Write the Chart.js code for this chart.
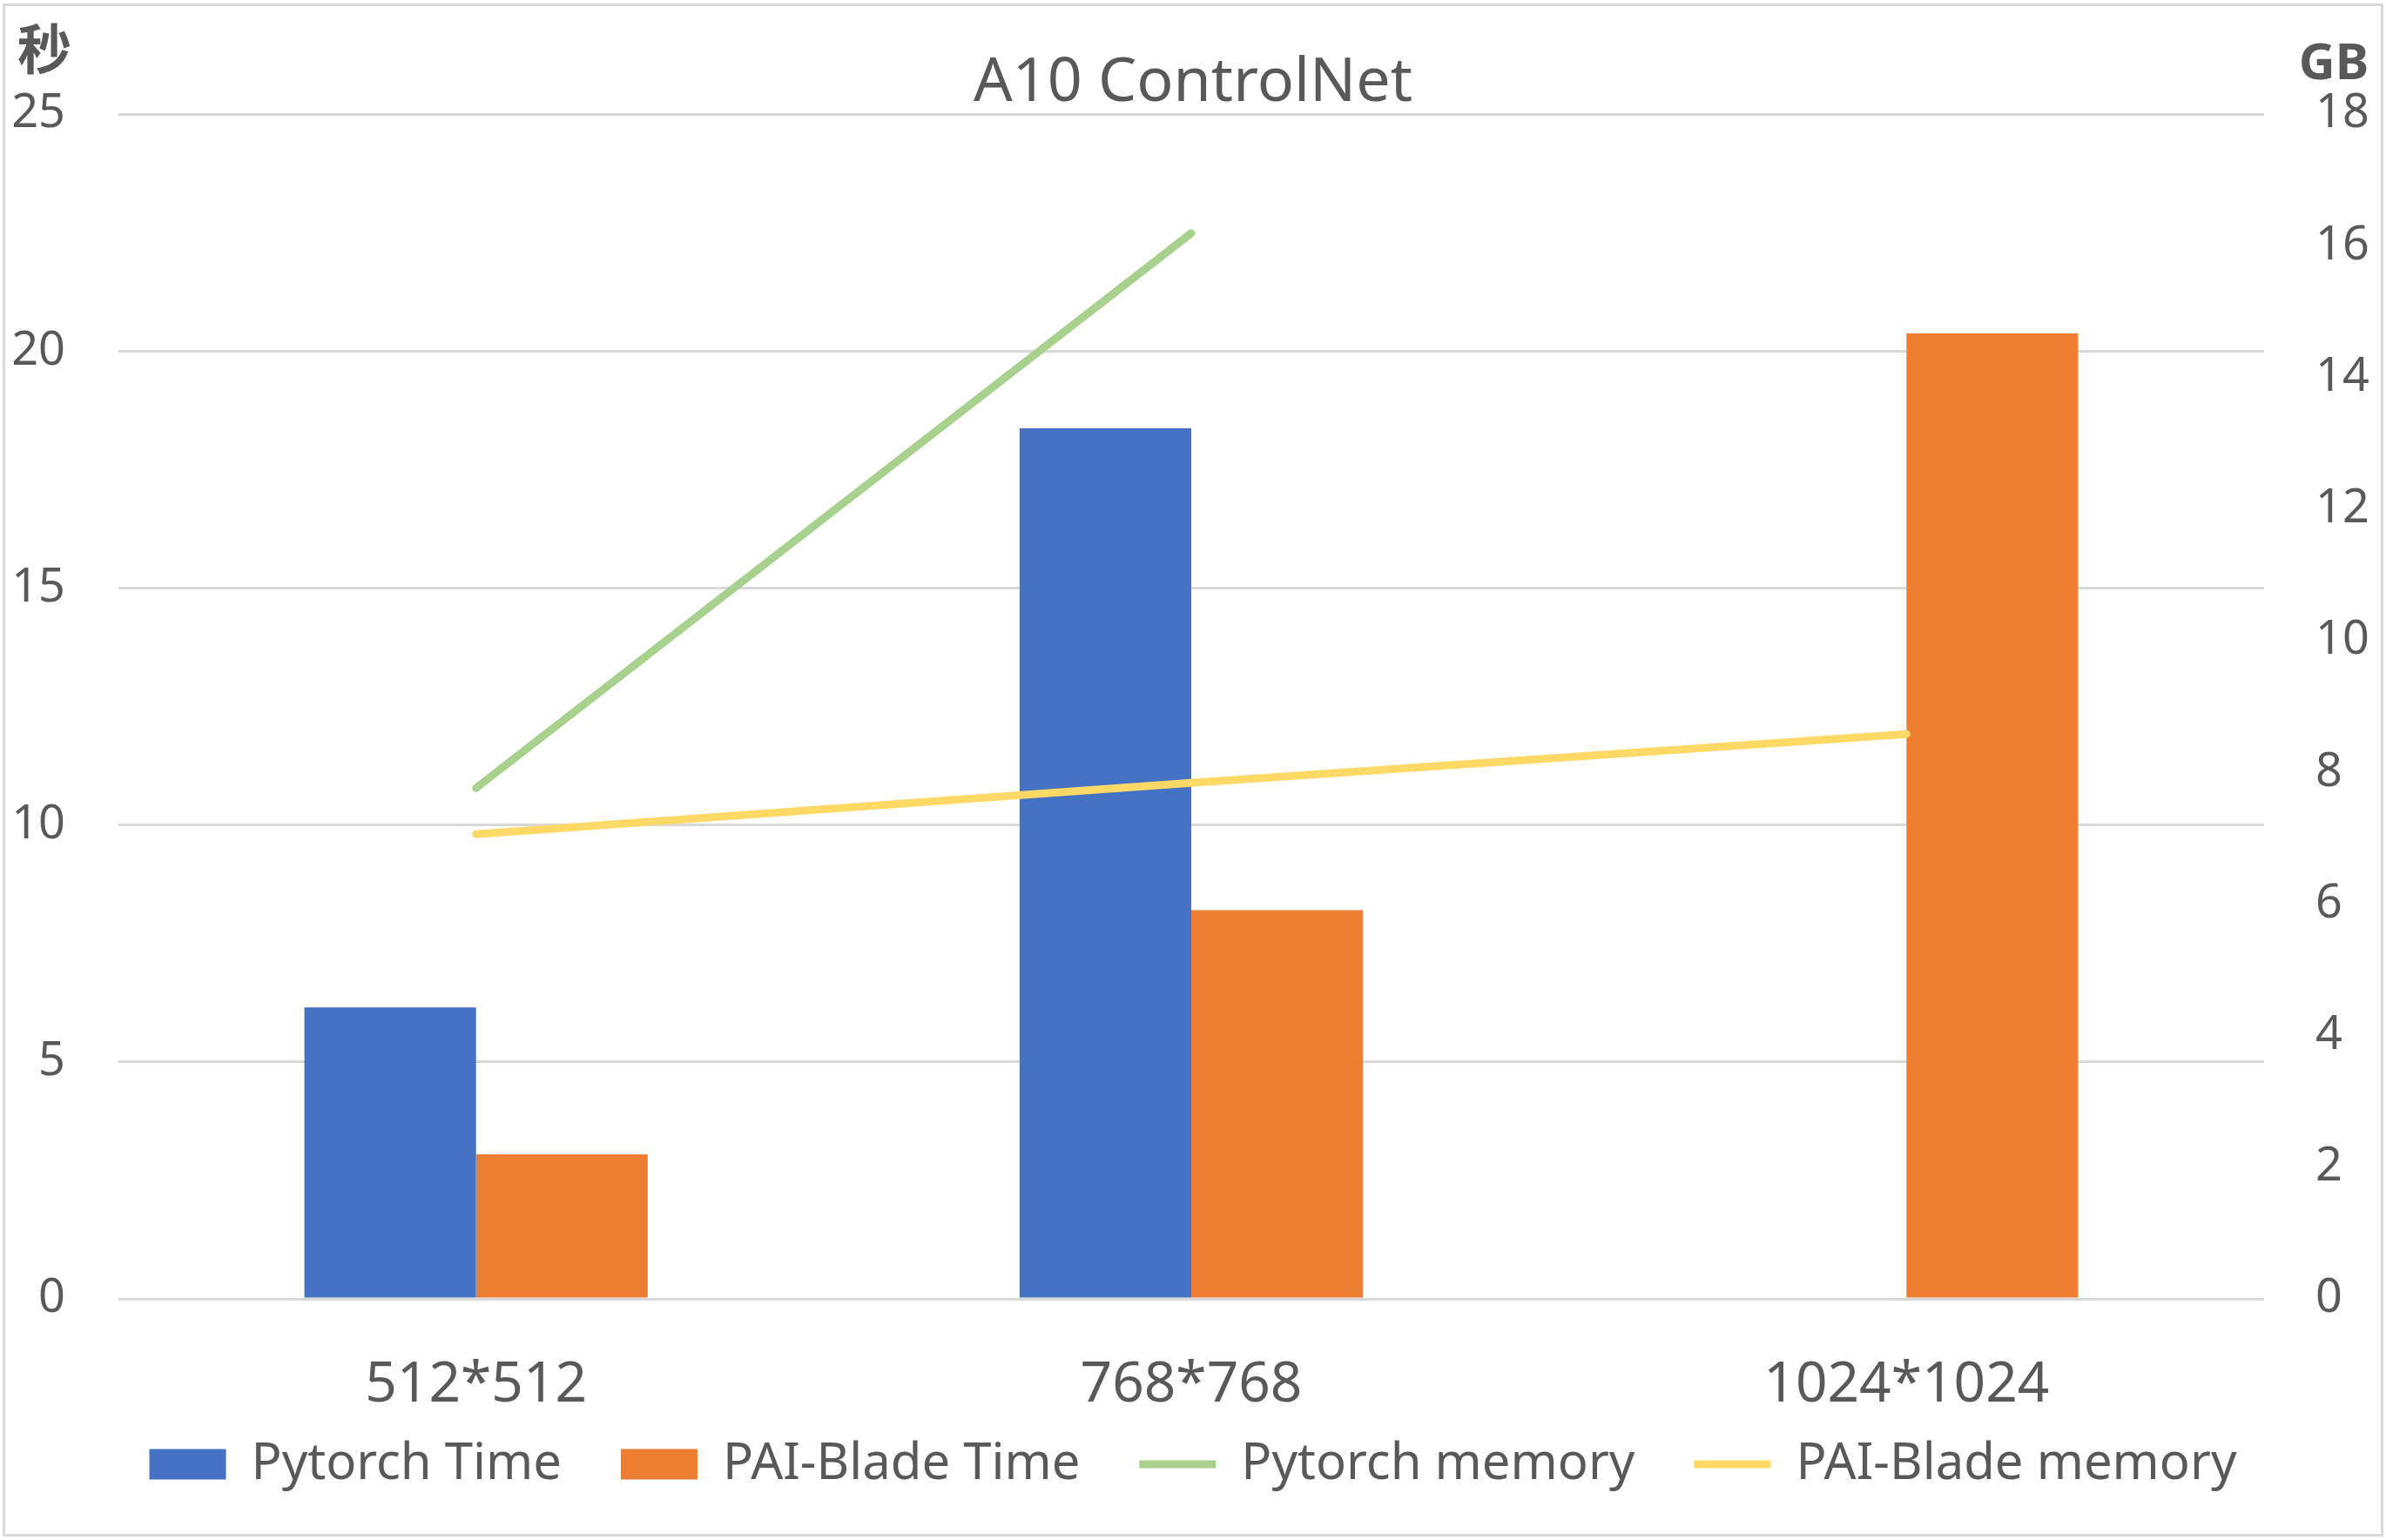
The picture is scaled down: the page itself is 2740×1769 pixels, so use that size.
<!DOCTYPE html>
<html>
<head>
<meta charset="utf-8">
<script src="https://cdn.jsdelivr.net/npm/chart.js@4.4.0/dist/chart.umd.min.js"></script>
<style>
    html, body { margin: 0; padding: 0; background: #ffffff; }
    #wrap { width: 2740px; height: 1769px; position: relative; }
</style>
</head>
<body>
<div id="wrap"><canvas id="myChart"></canvas></div>
<script>
const categories = ['512*512', '768*768', '1024*1024'];
const pytorchTime = [6.15, 18.37, null];
const bladeTime = [3.05, 8.2, 20.37];
const pytorchMemory = [7.76, 16.19, null];
const bladeMemory = [7.06, 7.84, 8.58];
const timeTicks = [0, 5, 10, 15, 20, 25];
const memoryTicks = [0, 2, 4, 6, 8, 10, 12, 14, 16, 18];

const textColor = '#595959';
const gridColor = '#d9d9d9';

Chart.defaults.font.family = "'Noto Sans', 'Noto Sans CJK SC', sans-serif";
Chart.defaults.color = textColor;

// white page, frame, and the two unit labels above the axes
const frame = {
    id: 'frame',
    afterLayout(chart) {
        // pull the legend up a bit so it sits closer to the category labels
        chart.legend.top -= 45;
        chart.legend.bottom -= 45;
    },
    beforeDraw(chart) {
        const c = chart.ctx;
        c.save();
        c.fillStyle = '#ffffff';
        c.fillRect(0, 0, chart.width, chart.height);
        c.restore();
    },
    afterDraw(chart) {
        const c = chart.ctx;
        c.save();
        c.strokeStyle = gridColor;
        c.lineWidth = 3;
        c.strokeRect(4.5, 5.5, chart.width - 9, chart.height - 11);
        c.fillStyle = textColor;
        c.textAlign = 'center';
        c.textBaseline = 'middle';
        c.font = "bold 62px 'Noto Sans CJK SC'";
        c.fillText('秒', 51, 56);
        c.font = "bold 58px 'Noto Sans'";
        c.fillText('GB', 2680, 74);
        c.restore();
    }
};

const ctx = document.getElementById('myChart');

new Chart(ctx, {
    type: 'bar',
    data: {
        labels: categories,
        datasets: [{
            label: 'Pytorch Time',
            data: pytorchTime,
            backgroundColor: '#4472c4',
            yAxisID: 'y',
            order: 1,
            pointStyle: 'rect'
        }, {
            label: 'PAI-Blade Time',
            data: bladeTime,
            backgroundColor: '#ed7d31',
            yAxisID: 'y',
            order: 1,
            pointStyle: 'rect'
        }, {
            type: 'line',
            label: 'Pytorch memory',
            data: pytorchMemory,
            borderColor: '#a9d18e',
            backgroundColor: '#a9d18e',
            borderWidth: 9,
            borderCapStyle: 'round',
            pointRadius: 0,
            pointStyle: 'line',
            yAxisID: 'y1',
            order: 0
        }, {
            type: 'line',
            label: 'PAI-Blade memory',
            data: bladeMemory,
            borderColor: '#ffd966',
            backgroundColor: '#ffd966',
            borderWidth: 9,
            borderCapStyle: 'round',
            pointRadius: 0,
            pointStyle: 'line',
            yAxisID: 'y1',
            order: 0
        }]
    },
    options: {
        responsive: true,
        maintainAspectRatio: false,
        devicePixelRatio: 1,
        animation: false,
        datasets: {
            bar: {
                categoryPercentage: 0.48,
                barPercentage: 1.0
            }
        },
        layout: {
            padding: { top: 20, left: 0, right: 0, bottom: 3 }
        },
        plugins: {
            title: {
                display: true,
                text: 'A10 ControlNet',
                color: textColor,
                font: { size: 70, weight: 'normal', lineHeight: 1.0 },
                padding: { top: 41, bottom: 0 }
            },
            legend: {
                position: 'bottom',
                labels: {
                    color: textColor,
                    font: { size: 58 },
                    usePointStyle: true,
                    pointStyleWidth: 88,
                    boxHeight: 35,
                    padding: 68,
                    sort: (a, b) => a.datasetIndex - b.datasetIndex
                }
            },
            tooltip: { enabled: false }
        },
        scales: {
            x: {
                grid: { display: false },
                border: { display: false },
                ticks: { color: textColor, font: { size: 64 }, padding: 53 },
                afterFit: (scale) => { scale.height = 138; }
            },
            y: {
                position: 'left',
                min: timeTicks[0],
                max: timeTicks[timeTicks.length - 1],
                grid: { color: gridColor, lineWidth: 3, drawTicks: false },
                border: { display: false },
                ticks: { stepSize: timeTicks[1] - timeTicks[0], color: textColor, font: { size: 54 }, padding: 61 },
                afterFit: (scale) => { scale.width = 136; }
            },
            y1: {
                position: 'right',
                min: memoryTicks[0],
                max: memoryTicks[memoryTicks.length - 1],
                grid: { display: false, drawTicks: false },
                border: { display: false },
                ticks: { stepSize: memoryTicks[1] - memoryTicks[0], color: textColor, font: { size: 54 }, padding: 59 },
                afterFit: (scale) => { scale.width = 140; }
            }
        }
    },
    plugins: [frame]
});
</script>
</body>
</html>
